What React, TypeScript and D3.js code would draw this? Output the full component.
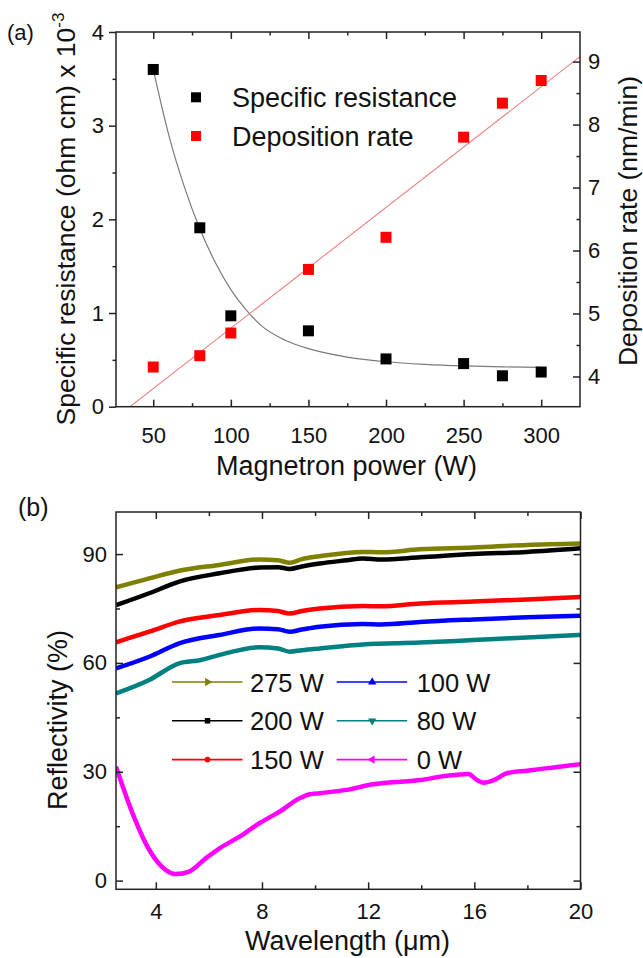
import React, { useEffect, useRef } from 'react'
import * as d3 from 'd3'

// ---- panel (a): resistance and deposition rate vs magnetron power
const power = [50, 80, 100, 150, 200, 250, 275, 300]
const resistance = [3.6, 1.91, 0.97, 0.81, 0.51, 0.46, 0.33, 0.37]
const depositionRate = [4.15, 4.33, 4.69, 5.7, 6.21, 7.8, 8.34, 8.7]

// fit curves
const resistanceFit: [number, number][] = [
  [50, 3.6], [60, 2.9], [70, 2.35], [80, 1.9], [90, 1.54], [100, 1.25],
  [110, 1.03], [120, 0.86], [135, 0.71], [150, 0.62], [175, 0.53],
  [200, 0.48], [225, 0.452], [250, 0.435], [275, 0.425], [300, 0.42],
]
const depositionFit: [number, number][] = [[35, 3.52], [325, 9.08]]

const powerTicks = [50, 100, 150, 200, 250, 300]
const powerMinor = [75, 125, 175, 225, 275]
const resTicks = [0, 1, 2, 3, 4]
const resMinor = [0.5, 1.5, 2.5, 3.5]
const rateTicks = [4, 5, 6, 7, 8, 9]
const rateMinor = [4.5, 5.5, 6.5, 7.5, 8.5]

// ---- panel (b): reflectivity spectra
const r275: [number, number][] = [
  [2.5, 80.8], [3.75, 83.3], [4.88, 85.4], [6.4, 87.0], [7.9, 88.5], [8.6, 88.3],
  [9.04, 87.6], [9.5, 88.6], [10.17, 89.4], [11.8, 90.6], [12.5, 90.5],
  [13.95, 91.3], [15.96, 91.8], [17.98, 92.5], [20, 92.9],
]
const r200: [number, number][] = [
  [2.5, 75.9], [3.75, 79.2], [4.88, 82.4], [6.4, 84.7], [7.9, 86.3], [8.6, 86.4],
  [9.04, 85.9], [9.5, 86.6], [10.17, 87.4], [11.2, 88.3], [11.8, 88.8],
  [12.5, 88.5], [13.95, 89.1], [15.96, 90.0], [17.98, 90.6], [20, 91.6],
]
const r150: [number, number][] = [
  [2.5, 65.7], [3.75, 68.6], [4.88, 71.4], [6.4, 73.2], [7.9, 74.6], [8.6, 74.3],
  [9.04, 73.6], [9.5, 74.3], [10.17, 75.0], [11.8, 75.7], [12.5, 75.6],
  [13.95, 76.4], [15.96, 76.9], [17.98, 77.5], [20, 78.2],
]
const r100: [number, number][] = [
  [2.5, 58.5], [3.75, 61.7], [4.88, 65.4], [6.4, 67.7], [7.9, 69.5], [8.6, 69.3],
  [9.04, 68.6], [9.5, 69.2], [10.17, 70.0], [11.8, 70.7], [12.5, 70.6],
  [13.95, 71.3], [15.96, 72.0], [17.98, 72.6], [20, 73.0],
]
const r80: [number, number][] = [
  [2.5, 51.6], [3.75, 55.3], [4.88, 59.9], [5.7, 60.8], [6.4, 62.2], [7.9, 64.3],
  [8.6, 64.0], [9.04, 63.1], [9.5, 63.5], [10.17, 64.0], [11.8, 65.1],
  [13.95, 65.6], [15.96, 66.3], [17.98, 67.0], [20, 67.7],
]
const r0: [number, number][] = [
  [2.5, 31.4], [3.12, 18.6], [3.75, 8.5], [4.38, 2.9], [4.75, 1.8], [5.26, 2.5],
  [5.89, 6.2], [6.4, 8.9], [7.15, 12.1], [7.9, 15.8], [8.66, 19.0], [9.42, 22.7],
  [9.8, 23.8], [10.17, 24.1], [11.18, 25.0], [12.07, 26.4], [13.95, 27.7],
  [14.96, 28.9], [15.78, 29.4], [16.1, 27.7], [16.35, 27.0], [16.73, 27.7],
  [17.23, 29.6], [17.98, 30.3], [18.99, 31.2], [20, 32.1],
]

const seriesLabels = ['275 W', '200 W', '150 W', '100 W', '80 W', '0 W']
const seriesColors = ['#808000', '#000000', '#ff0000', '#0000ff', '#008080', '#ff00ff']
const seriesData = [r275, r200, r150, r100, r80, r0]
// marker: symbol type + rotation
const seriesMarkers: [d3.SymbolType, number][] = [
  [d3.symbolTriangle, 90],
  [d3.symbolSquare, 0],
  [d3.symbolCircle, 0],
  [d3.symbolTriangle, 0],
  [d3.symbolTriangle, 180],
  [d3.symbolTriangle, -90],
]

const wlTicks = [4, 8, 12, 16, 20]
const wlMinor = [6, 10, 14, 18]
const refTicks = [0, 30, 60, 90]
const refMinor = [15, 45, 75]

const FONT = '"Liberation Sans", Arial, sans-serif'
const AXIS = '#222'

function styleAxis(g: any, fontSize: number) {
  g.attr('font-family', FONT).attr('font-size', fontSize)
  g.select('.domain').remove()
  g.selectAll('.tick line').attr('stroke', AXIS).attr('stroke-width', 1.5)
  g.selectAll('.tick text').attr('fill', '#111')
}

function addAxis(svg: any, axis: any, tx: number, ty: number, fontSize = 22) {
  const g = svg.append('g').attr('transform', 'translate(' + tx + ',' + ty + ')').call(axis)
  styleAxis(g, fontSize)
  return g
}

export default function App() {
  const ref = useRef<SVGSVGElement>(null)

  useEffect(() => {
    const svg = d3.select(ref.current)
    svg.selectAll('*').remove()
    svg.attr('font-family', FONT)
    const none = () => ''

    // ================= panel (a) =================
    const left = 116, right = 580, top = 32, bottom = 406.7
    const x = d3.scaleLinear().domain([26, 325]).range([left, right])
    const yRes = d3.scaleLinear().domain([0, 4]).range([bottom, top])
    const yRate = d3.scaleLinear().domain([3.52, 9.47]).range([bottom, top])

    svg.append('clipPath').attr('id', 'clipA')
      .append('rect').attr('x', left).attr('y', top)
      .attr('width', right - left).attr('height', bottom - top)

    // fit lines
    const resLine = d3.line<[number, number]>()
      .x((d) => x(d[0])).y((d) => yRes(d[1])).curve(d3.curveMonotoneX)
    svg.append('path').datum(resistanceFit).attr('d', resLine)
      .attr('fill', 'none').attr('stroke', '#7a7a7a').attr('stroke-width', 1.2)
      .attr('clip-path', 'url(#clipA)')

    const rateLine = d3.line<[number, number]>()
      .x((d) => x(d[0])).y((d) => yRate(d[1]))
    svg.append('path').datum(depositionFit).attr('d', rateLine)
      .attr('fill', 'none').attr('stroke', '#f08080').attr('stroke-width', 1.1)
      .attr('clip-path', 'url(#clipA)')

    // points
    const sq = 11
    svg.append('g').selectAll('rect').data(power).join('rect')
      .attr('x', (d) => x(d) - sq / 2)
      .attr('y', (d, i) => yRate(depositionRate[i]) - sq / 2)
      .attr('width', sq).attr('height', sq).attr('fill', '#ff0000')
    svg.append('g').selectAll('rect').data(power).join('rect')
      .attr('x', (d) => x(d) - sq / 2)
      .attr('y', (d, i) => yRes(resistance[i]) - sq / 2)
      .attr('width', sq).attr('height', sq).attr('fill', '#000')

    // axes
    addAxis(svg, d3.axisLeft(yRes).tickValues(resTicks).tickSize(7).tickPadding(5).tickFormat(d3.format('d')), left, 0)
    addAxis(svg, d3.axisLeft(yRes).tickValues(resMinor).tickSize(3.5).tickFormat(none), left, 0)
    addAxis(svg, d3.axisBottom(x).tickValues(powerTicks).tickSize(-7).tickPadding(21).tickFormat(d3.format('d')), 0, bottom)
    addAxis(svg, d3.axisBottom(x).tickValues(powerMinor).tickSize(-3.5).tickFormat(none), 0, bottom)
    addAxis(svg, d3.axisTop(x).tickValues(powerTicks).tickSize(-7).tickFormat(none), 0, top)
    addAxis(svg, d3.axisTop(x).tickValues(powerMinor).tickSize(-3.5).tickFormat(none), 0, top)
    addAxis(svg, d3.axisRight(yRate).tickValues(rateTicks).tickSize(-7).tickPadding(8).tickFormat(d3.format('d')), right, 0)
    addAxis(svg, d3.axisRight(yRate).tickValues(rateMinor).tickSize(-3.5).tickFormat(none), right, 0)

    svg.append('rect').attr('x', left).attr('y', top)
      .attr('width', right - left).attr('height', bottom - top)
      .attr('fill', 'none').attr('stroke', AXIS).attr('stroke-width', 1.5)

    // legend (a)
    const legA = [['Specific resistance', '#000'], ['Deposition rate', '#ff0000']]
    legA.forEach((l, i) => {
      const cy = 97.3 + i * 38.7
      svg.append('rect').attr('x', 196 - 5).attr('y', cy - 5)
        .attr('width', 10).attr('height', 10).attr('fill', l[1])
      svg.append('text').attr('x', 232).attr('y', cy + 10)
        .attr('font-size', 27).attr('fill', '#111').text(l[0])
    })

    // titles (a)
    svg.append('text').attr('x', 346.5).attr('y', 475).attr('text-anchor', 'middle')
      .attr('font-size', 27).attr('fill', '#111').text('Magnetron power (W)')
    const yt = svg.append('text').attr('transform', 'translate(75,219) rotate(-90)')
      .attr('text-anchor', 'middle').attr('font-size', 26.5).attr('fill', '#111')
    yt.append('tspan').text('Specific resistance (ohm cm) x 10')
    yt.append('tspan').attr('font-size', 17).attr('dy', -11).text('-3')
    svg.append('text').attr('transform', 'translate(637,221) rotate(-90)')
      .attr('text-anchor', 'middle').attr('font-size', 26.5).attr('fill', '#111')
      .text('Deposition rate (nm/min)')
    svg.append('text').attr('x', 7).attr('y', 40).attr('font-size', 22)
      .attr('fill', '#111').text('(a)')

    // ================= panel (b) =================
    const bl = 116, br = 580.5, bt = 512, bb = 889.3
    const xb = d3.scaleLinear().domain([2.5, 20]).range([bl, br])
    const yb = d3.scaleLinear().domain([-2.4, 101.6]).range([bb, bt])

    svg.append('clipPath').attr('id', 'clipB')
      .append('rect').attr('x', bl).attr('y', bt)
      .attr('width', br - bl).attr('height', bb - bt)

    const specLine = d3.line<[number, number]>()
      .x((d) => xb(d[0])).y((d) => yb(d[1])).curve(d3.curveMonotoneX)
    seriesData.forEach((s, i) => {
      svg.append('path').datum(s).attr('d', specLine)
        .attr('fill', 'none').attr('stroke', seriesColors[i]).attr('stroke-width', 4.5)
        .attr('stroke-linejoin', 'round').attr('clip-path', 'url(#clipB)')
    })

    addAxis(svg, d3.axisLeft(yb).tickValues(refTicks).tickSize(-7).tickPadding(9).tickFormat(d3.format('d')), bl, 0)
    addAxis(svg, d3.axisLeft(yb).tickValues(refMinor).tickSize(-4).tickFormat(none), bl, 0)
    addAxis(svg, d3.axisRight(yb).tickValues(refTicks).tickSize(-7).tickFormat(none), br, 0)
    addAxis(svg, d3.axisRight(yb).tickValues(refMinor).tickSize(-4).tickFormat(none), br, 0)
    addAxis(svg, d3.axisBottom(xb).tickValues(wlTicks).tickSize(-7).tickPadding(14).tickFormat(d3.format('d')), 0, bb)
    addAxis(svg, d3.axisBottom(xb).tickValues(wlMinor).tickSize(-4).tickFormat(none), 0, bb)
    addAxis(svg, d3.axisTop(xb).tickValues(wlTicks).tickSize(-7).tickFormat(none), 0, bt)
    addAxis(svg, d3.axisTop(xb).tickValues(wlMinor).tickSize(-4).tickFormat(none), 0, bt)

    svg.append('rect').attr('x', bl).attr('y', bt)
      .attr('width', br - bl).attr('height', bb - bt)
      .attr('fill', 'none').attr('stroke', AXIS).attr('stroke-width', 1.5)

    // legend (b): two columns of three
    seriesLabels.forEach((lab, i) => {
      const col = i < 3 ? 0 : 1
      const row = i % 3
      const x0 = col === 0 ? 172 : 336.7
      const cy = 682 + row * 38.8
      svg.append('line').attr('x1', x0).attr('x2', x0 + 70.5)
        .attr('y1', cy).attr('y2', cy)
        .attr('stroke', seriesColors[i]).attr('stroke-width', 1.6)
      const [type, rot] = seriesMarkers[i]
      svg.append('path')
        .attr('d', d3.symbol().type(type).size(type === d3.symbolCircle ? 26 : 30)())
        .attr('transform', 'translate(' + (x0 + 35.5) + ',' + cy + ') rotate(' + rot + ')')
        .attr('fill', seriesColors[i])
      svg.append('text').attr('x', x0 + (col === 0 ? 78 : 80)).attr('y', cy + 9.5)
        .attr('font-size', 25.5).attr('fill', '#111').text(lab)
    })

    // titles (b)
    svg.append('text').attr('x', 347.5).attr('y', 950).attr('text-anchor', 'middle')
      .attr('font-size', 27).attr('fill', '#111').text('Wavelength (\u03bcm)')
    svg.append('text').attr('transform', 'translate(67,720) rotate(-90)')
      .attr('text-anchor', 'middle').attr('font-size', 27).attr('fill', '#111')
      .text('Reflectivity (%)')
    svg.append('text').attr('x', 18).attr('y', 515.7).attr('font-size', 25)
      .attr('fill', '#111').text('(b)')
  }, [])

  return (
    <svg
      ref={ref}
      width={643}
      height={958}
      style={{ position: 'absolute', left: 0, top: 0, background: '#fff' }}
    />
  )
}
